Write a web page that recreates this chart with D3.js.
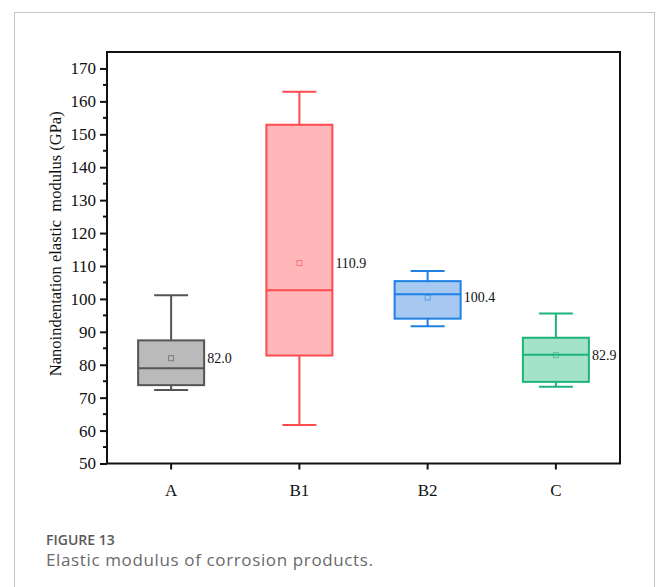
<!DOCTYPE html>
<html>
<head>
<meta charset="utf-8">
<script src="https://cdn.jsdelivr.net/npm/d3@7/dist/d3.min.js"></script>
<style>
  html, body { margin: 0; padding: 0; background: #fff; }
  svg { display: block; }
</style>
</head>
<body>
<svg id="chart"></svg>
<script>
// Box plot data (GPa)
const categories = ['A', 'B1', 'B2', 'C'];
const whiskerLow  = [72.3, 61.7, 91.7, 73.3];
const q1          = [73.8, 82.8, 94.0, 74.8];
const medians     = [78.9, 102.6, 101.4, 83.0];
const q3          = [87.4, 152.9, 105.4, 88.2];
const whiskerHigh = [101.1, 162.9, 108.5, 95.6];
const means       = [82.0, 110.9, 100.4, 82.9];
const yTicks = [50, 60, 70, 80, 90, 100, 110, 120, 130, 140, 150, 160, 170];

const strokeColors = ['#555555', '#ff4a50', '#1f80e4', '#1db37a'];
const fillColors   = ['#bababa', '#ffb7b9', '#a6c8f1', '#a5e2ca'];

const width = 656, height = 587;
const margin = { left: 107, right: 36, top: 52, bottom: 123.5 };

const svg = d3.select('#chart')
    .attr('width', width)
    .attr('height', height);

// outer figure frame
svg.append('rect')
    .attr('x', 14.5).attr('y', 12.5)
    .attr('width', 640).attr('height', 600)
    .attr('fill', 'none')
    .attr('stroke', '#c4c4c4')
    .attr('stroke-width', 1);

const x = d3.scaleBand()
    .domain(categories)
    .range([margin.left, width - margin.right]);

const y = d3.scaleLinear()
    .domain([50, 175])
    .range([height - margin.bottom, margin.top]);

const boxes = categories.map((c, i) => ({
    cat: c, lo: whiskerLow[i], q1: q1[i], med: medians[i],
    q3: q3[i], hi: whiskerHigh[i], mean: means[i],
    stroke: strokeColors[i], fill: fillColors[i]
}));

const boxW = 66, capW = 34;
const g = svg.append('g').attr('class', 'boxes');

const bx = g.selectAll('g.box')
    .data(boxes)
    .enter().append('g')
    .attr('class', 'box')
    .attr('transform', d => `translate(${x(d.cat) + x.bandwidth() / 2},0)`);

// whisker stems
bx.append('line')
    .attr('x1', 0).attr('x2', 0)
    .attr('y1', d => y(d.hi)).attr('y2', d => y(d.q3))
    .attr('stroke', d => d.stroke).attr('stroke-width', 2);
bx.append('line')
    .attr('x1', 0).attr('x2', 0)
    .attr('y1', d => y(d.q1)).attr('y2', d => y(d.lo))
    .attr('stroke', d => d.stroke).attr('stroke-width', 2);

// caps
bx.selectAll('line.cap')
    .data(d => [{ v: d.hi, s: d.stroke }, { v: d.lo, s: d.stroke }])
    .enter().append('line')
    .attr('class', 'cap')
    .attr('x1', -capW / 2).attr('x2', capW / 2)
    .attr('y1', d => y(d.v)).attr('y2', d => y(d.v))
    .attr('stroke', d => d.s).attr('stroke-width', 2);

// box
bx.append('rect')
    .attr('x', -boxW / 2)
    .attr('y', d => y(d.q3))
    .attr('width', boxW)
    .attr('height', d => y(d.q1) - y(d.q3))
    .attr('fill', d => d.fill)
    .attr('stroke', d => d.stroke)
    .attr('stroke-width', 2);

// median
bx.append('line')
    .attr('x1', -boxW / 2).attr('x2', boxW / 2)
    .attr('y1', d => y(d.med)).attr('y2', d => y(d.med))
    .attr('stroke', d => d.stroke).attr('stroke-width', 2);

// mean marker
bx.append('rect')
    .attr('x', -2.5).attr('y', d => y(d.mean) - 2.5)
    .attr('width', 5).attr('height', 5)
    .attr('fill', 'none')
    .attr('stroke', d => d.stroke)
    .attr('stroke-opacity', 0.6)
    .attr('stroke-width', 1);

// mean value labels
bx.append('text')
    .attr('x', boxW / 2 + 3)
    .attr('y', d => y(d.mean))
    .attr('dy', '0.35em')
    .style('font-family', '"Liberation Serif", "Times New Roman", serif')
    .style('font-size', '14px')
    .style('fill', '#111')
    .text(d => d.mean.toFixed(1));

// plot frame
svg.append('rect')
    .attr('x', margin.left).attr('y', margin.top)
    .attr('width', width - margin.left - margin.right)
    .attr('height', height - margin.top - margin.bottom)
    .attr('fill', 'none')
    .attr('stroke', '#111')
    .attr('stroke-width', 2);

const axisFont = '"Liberation Serif", "Times New Roman", serif';

// y axis with minor ticks
const yAxis = svg.append('g')
    .attr('transform', `translate(${margin.left},0)`)
    .call(d3.axisLeft(y).tickValues(yTicks).tickSize(7).tickPadding(4));
yAxis.select('.domain').remove();
yAxis.selectAll('line').attr('stroke', '#111').attr('stroke-width', 2);
yAxis.selectAll('text')
    .style('font-family', axisFont)
    .style('font-size', '17px')
    .style('fill', '#111');

const minor = yTicks.slice(0, -1).map(v => v + 5);
svg.append('g')
    .selectAll('line')
    .data(minor)
    .enter().append('line')
    .attr('x1', margin.left - 4).attr('x2', margin.left)
    .attr('y1', d => y(d)).attr('y2', d => y(d))
    .attr('stroke', '#111').attr('stroke-width', 2);

// x axis
const xAxis = svg.append('g')
    .attr('transform', `translate(0,${height - margin.bottom})`)
    .call(d3.axisBottom(x).tickSize(6).tickPadding(14));
xAxis.select('.domain').remove();
xAxis.selectAll('line').attr('stroke', '#111').attr('stroke-width', 2);
xAxis.selectAll('text')
    .style('font-family', axisFont)
    .style('font-size', '17px')
    .style('fill', '#111');

// y axis title
svg.append('text')
    .attr('transform', `translate(61,${(margin.top + height - margin.bottom) / 2 - 14}) rotate(-90)`)
    .attr('text-anchor', 'middle')
    .style('font-family', axisFont)
    .style('font-size', '16.5px')
    .style('fill', '#111')
    .style('white-space', 'pre')
    .text('Nanoindentation elastic  modulus (GPa)');

// caption
svg.append('text')
    .attr('x', 46).attr('y', 545)
    .style('font-family', '"Open Sans", "Noto Sans", sans-serif')
    .style('font-size', '14px')
    .style('font-weight', 600)
    .style('fill', '#5a5a5a')
    .text('FIGURE 13');
svg.append('text')
    .attr('x', 46).attr('y', 566)
    .attr('textLength', 327)
    .attr('lengthAdjust', 'spacing')
    .style('font-family', '"Open Sans", "Noto Sans", sans-serif')
    .style('font-size', '17px')
    .style('fill', '#6a6a6a')
    .text('Elastic modulus of corrosion products.');
</script>
</body>
</html>
